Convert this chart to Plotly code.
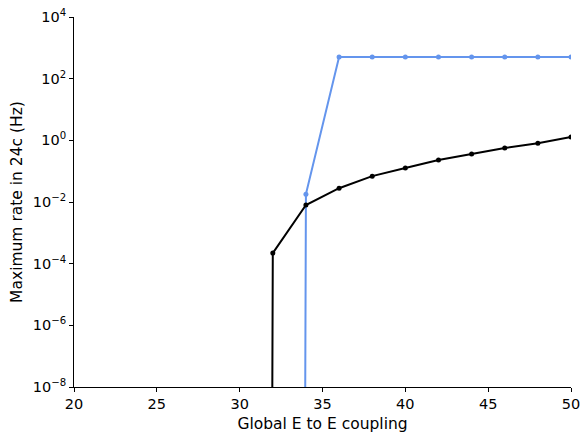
import numpy as np
import plotly.graph_objects as go

# coupling values on the x axis
coupling = [20, 22, 24, 26, 28, 30, 32, 34, 36, 38, 40, 42, 44, 46, 48, 50]

# maximum rate in 24c (Hz); zero means silent
rate_black = [0, 0, 0, 0, 0, 0, 2.2e-4, 8e-3, 0.028, 0.069, 0.126, 0.23,
              0.36, 0.56, 0.81, 1.28]
rate_blue = [0, 0, 0, 0, 0, 0, 0, 0.018, 500, 500, 500, 500, 500, 500, 500, 500]

ytick_vals = [1e-8, 1e-6, 1e-4, 1e-2, 1e0, 1e2, 1e4]
ytick_text = ["10<sup>\u22128</sup>", "10<sup>\u22126</sup>", "10<sup>\u22124</sup>",
              "10<sup>\u22122</sup>", "10<sup>0</sup>", "10<sup>2</sup>",
              "10<sup>4</sup>"]
xtick_vals = [20, 25, 30, 35, 40, 45, 50]


def clip_zero(values):
    # like matplotlib's log clipping: zeros become a vanishing positive value
    arr = np.asarray(values, dtype=float)
    return np.where(arr > 0, arr, 1e-300)


fig = go.Figure()
fig.add_trace(go.Scatter(
    x=coupling, y=clip_zero(rate_blue), mode="lines+markers",
    line=dict(color="#6495ED", width=2), marker=dict(color="#6495ED", size=5),
    showlegend=False,
))
fig.add_trace(go.Scatter(
    x=coupling, y=clip_zero(rate_black), mode="lines+markers",
    line=dict(color="black", width=2), marker=dict(color="black", size=5),
    showlegend=False,
))

axis_common = dict(
    showgrid=False, zeroline=False, showline=True, linecolor="black",
    linewidth=1, mirror=False, ticks="outside", ticklen=4, tickwidth=1,
    tickcolor="black", tickfont=dict(size=14.5, color="black"),
    ticklabeloverflow="allow", automargin=False,
)
# the page body adds 8px on the left/top, so margins are offset by that
fig.update_layout(
    width=588, height=441,
    margin=dict(l=66, r=25, t=9, b=62),
    paper_bgcolor="white", plot_bgcolor="white",
    font=dict(family="DejaVu Sans", color="black"),
    xaxis=dict(range=[20, 50], tickvals=xtick_vals,
               title=dict(text="Global E to E coupling", font=dict(size=15.5),
                          standoff=6),
               **axis_common),
    yaxis=dict(type="log", range=[-8, 4], tickvals=ytick_vals,
               ticktext=ytick_text,
               title=dict(text="Maximum rate in 24c (Hz)", font=dict(size=15.5),
                          standoff=8),
               **axis_common),
)

fig.write_html("out.html")
